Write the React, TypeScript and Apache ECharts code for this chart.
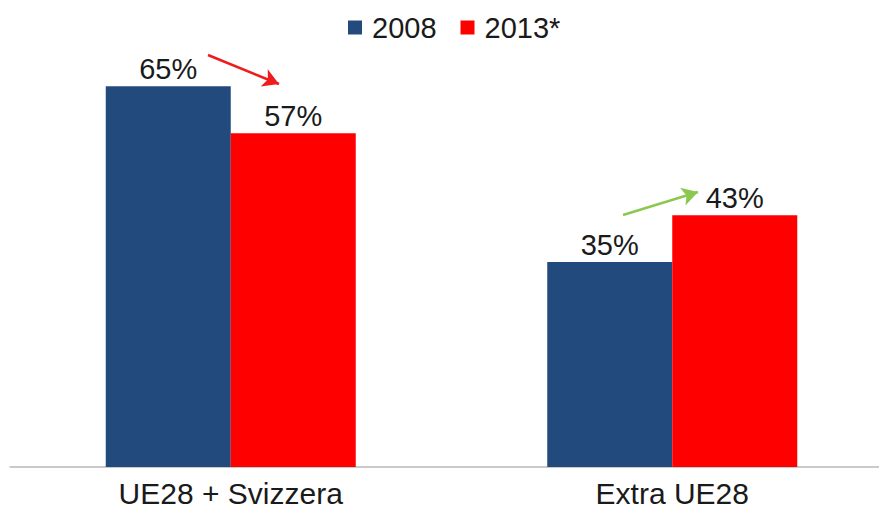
import React, { useEffect, useRef } from "react";
import * as echarts from "echarts";

const categories = ["UE28 + Svizzera", "Extra UE28"];
const seriesNames = ["2008", "2013*"];
const values2008 = [65, 35];
const values2013 = [57, 43];
const colors = ["#234a7c", "#ff0000"];

export default function App() {
  const ref = useRef<HTMLDivElement>(null);
  useEffect(() => {
    const chart = echarts.init(ref.current!, undefined, { renderer: "svg" });
    const font = "'Liberation Sans', Arial, sans-serif";
    const labelStyle = {
      show: true,
      position: "top" as const,
      distance: 3,
      formatter: "{c}%",
      fontSize: 29,
      color: "#1a1a1a",
      fontFamily: font,
    };
    chart.setOption({
      animation: false,
      legend: {
        top: 8,
        left: 343,
        icon: "rect",
        itemWidth: 14,
        itemHeight: 14,
        itemGap: 24,
        textStyle: { fontSize: 29, color: "#1a1a1a", fontFamily: font, padding: [0, 0, 0, 5] },
        data: seriesNames,
      },
      grid: { left: 10, right: -14, top: 57, bottom: 44, outerBoundsMode: "none", containLabel: false },
      xAxis: {
        type: "category",
        data: categories,
        axisLine: { lineStyle: { color: "#b8b8b8", width: 1.5 } },
        axisTick: { show: false },
        axisLabel: {
          fontSize: 30,
          lineHeight: 24,
          color: "#1a1a1a",
          fontFamily: font,
          margin: 14,
          overflow: "none",
          hideOverlap: false,
        },
      },
      yAxis: {
        type: "value",
        min: 0,
        max: 70,
        show: false,
        splitLine: { show: false },
      },
      series: [
        {
          name: seriesNames[0],
          type: "bar",
          data: values2008,
          barWidth: 125,
          barGap: "0%",
          itemStyle: { color: colors[0] },
          label: labelStyle,
          markLine: {
            silent: true,
            symbol: ["none", "arrow"],
            symbolSize: [14, 16],
            label: { show: false },
            data: [
              [
                { x: 208, y: 55, lineStyle: { color: "#ee1c1c", width: 2.5, type: "solid" } },
                { x: 279, y: 84 },
              ],
              [
                { x: 623, y: 215, lineStyle: { color: "#8cc850", width: 2.5, type: "solid" } },
                { x: 698, y: 192 },
              ],
            ],
          },
        },
        {
          name: seriesNames[1],
          type: "bar",
          data: values2013,
          barWidth: 125,
          itemStyle: { color: colors[1] },
          label: labelStyle,
        },
      ],
    });
    return () => chart.dispose();
  }, []);
  return <div ref={ref} style={{ width: 879, height: 511, position: "absolute", left: 0, top: 0 }} />;
}
